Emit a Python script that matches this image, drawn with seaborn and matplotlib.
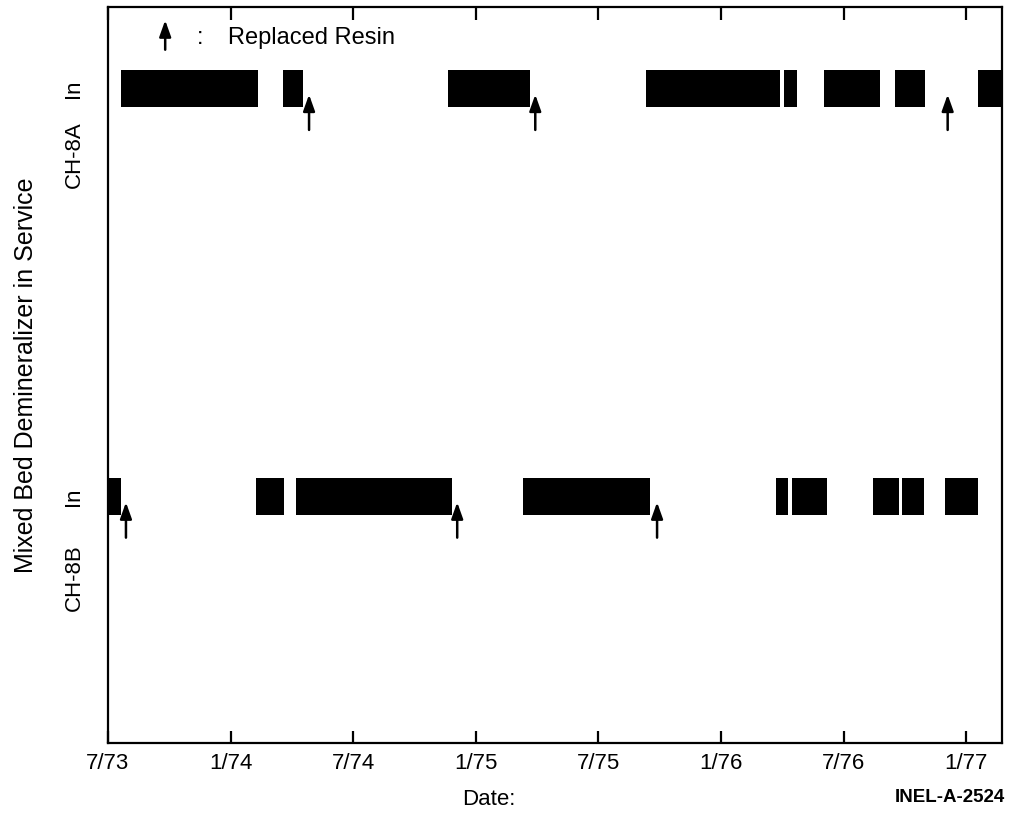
import matplotlib
matplotlib.use("Agg")
import matplotlib.pyplot as plt
from matplotlib.transforms import blended_transform_factory
import pandas as pd
import seaborn as sns

# Service periods in months counted from July 1973 (0 = 7/73)
ch8a_start = [0.62, 8.55, 16.64, 26.35, 33.06, 35.06, 38.49, 42.56]
ch8a_end = [7.35, 9.55, 20.67, 32.90, 33.70, 37.76, 40.00, 44.00]
ch8a_resin = [9.84, 20.91, 41.09]

ch8b_start = [0.00, 7.23, 9.21, 20.32, 32.71, 33.48, 37.46, 38.87, 40.94]
ch8b_end = [0.64, 8.62, 16.83, 26.54, 33.30, 35.19, 38.69, 39.91, 42.59]
ch8b_resin = [0.88, 17.09, 26.87]

tick_months = [0, 6, 12, 18, 24, 30, 36, 42]
tick_labels = ["7/73", "1/74", "7/74", "1/75", "7/75", "1/76", "7/76", "1/77"]

units = ["CH-8A", "CH-8B"]
lane_y = {"CH-8A": 0.889, "CH-8B": 0.335}
unit_label_y = {"CH-8A": 0.80, "CH-8B": 0.224}

periods = pd.concat([
    pd.DataFrame({"unit": "CH-8A", "start": ch8a_start, "end": ch8a_end}),
    pd.DataFrame({"unit": "CH-8B", "start": ch8b_start, "end": ch8b_end}),
], ignore_index=True)
periods["duration"] = periods["end"] - periods["start"]
periods["y"] = periods["unit"].map(lane_y)

resin = pd.concat([
    pd.DataFrame({"unit": "CH-8A", "month": ch8a_resin}),
    pd.DataFrame({"unit": "CH-8B", "month": ch8b_resin}),
], ignore_index=True)
resin["y"] = resin["unit"].map(lane_y)

sns.set_theme(style="ticks")
plt.rcParams["font.family"] = ["Liberation Sans", "DejaVu Sans"]

fig = plt.figure(figsize=(10.1, 8.16), dpi=100)
ax = fig.add_axes([0.1069, 0.0895, 0.8852, 0.9019])

bar_h = 0.05
ax.barh(periods["y"], periods["duration"], left=periods["start"],
        height=bar_h, color="black", edgecolor="none")

arrow_kw = dict(arrowstyle="-|>,head_length=0.7,head_width=0.25",
                color="black", lw=1.8, mutation_scale=14, shrinkA=0, shrinkB=0)
for _, r in resin.iterrows():
    ax.annotate("", xy=(r["month"], r["y"] - 0.008),
                xytext=(r["month"], r["y"] - 0.056), arrowprops=arrow_kw)

ax.set_xlim(0, 43.75)
ax.set_ylim(0, 1)
ax.set_xticks(tick_months, tick_labels)
ax.set_yticks([lane_y[u] for u in units], ["In", "In"])
ax.tick_params(axis="x", direction="in", length=9, width=1.6, labelsize=16,
               pad=7, top=True, color="black", labelcolor="black")
ax.tick_params(axis="y", left=False, labelsize=16, pad=11,
               labelrotation=90, labelcolor="black")
for lbl in ax.get_yticklabels():
    lbl.set_va("center")
    lbl.set_ha("right")

for side in ["left", "right", "top", "bottom"]:
    ax.spines[side].set_visible(True)
    ax.spines[side].set_color("black")
    ax.spines[side].set_linewidth(1.6)

trans = blended_transform_factory(ax.transAxes, ax.transData)
for u in units:
    ax.text(-0.038, unit_label_y[u], u, rotation=90, ha="center", va="center",
            fontsize=16, transform=trans, color="black")

ax.set_ylabel("Mixed Bed Demineralizer in Service", fontsize=18, color="black")
ax.yaxis.set_label_coords(-0.078, 0.5)
ax.set_xlabel("Date:", fontsize=16, color="black")
ax.xaxis.set_label_coords(0.426, -0.063)

# Key for the resin replacement arrows
ax.annotate("", xy=(0.064, 0.982), xytext=(0.064, 0.942),
            xycoords="axes fraction", textcoords="axes fraction",
            arrowprops=arrow_kw)
ax.text(0.103, 0.958, ":", transform=ax.transAxes, ha="center", va="center",
        fontsize=17, color="black")
ax.text(0.134, 0.958, "Replaced Resin", transform=ax.transAxes, ha="left",
        va="center", fontsize=17, color="black")

fig.text(0.995, 1 - 797 / 816, "INEL-A-2524", ha="right", va="center",
         fontsize=13.5, fontweight="bold", color="black")

fig.savefig("out.png", dpi=100, facecolor="white")
